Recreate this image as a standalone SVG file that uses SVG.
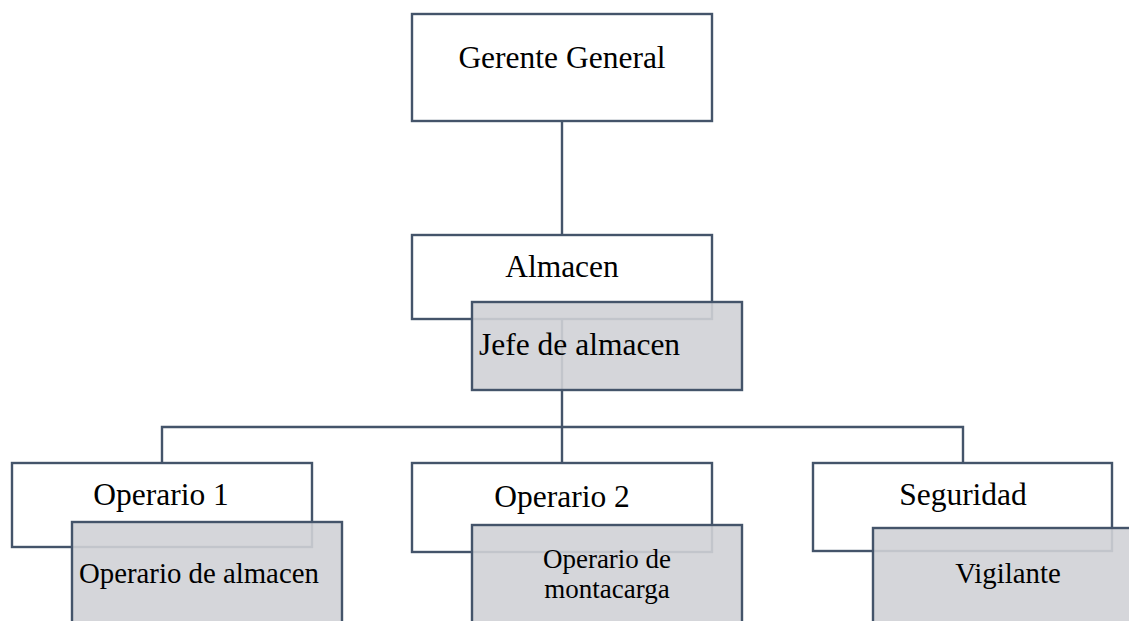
<svg xmlns="http://www.w3.org/2000/svg" width="1129" height="621" viewBox="0 0 1129 621">
<style>
.conn{stroke:#44546a;stroke-width:2.4;fill:none}
.wbox{fill:#ffffff;stroke:#44546a;stroke-width:2.4}
.gbox{fill:#d0d2d6;fill-opacity:0.9;stroke:#44546a;stroke-width:2.4}
.t{font-family:"Liberation Serif","Times New Roman",serif;font-size:31.5px;fill:#000000}
.ts{font-family:"Liberation Serif","Times New Roman",serif;font-size:28.8px;fill:#000000}
.tm{font-family:"Liberation Serif","Times New Roman",serif;font-size:27px;fill:#000000}
</style>
<rect width="1129" height="621" fill="#ffffff"/>
<g id="connectors">
<path class="conn" d="M562 121 V427"/>
<path class="conn" d="M162 463 V427 H963 V463"/>
<path class="conn" d="M562 427 V463"/>
</g>
<g id="gerente">
<rect class="wbox" x="412" y="14" width="300" height="107"/>
<text class="t" x="562" y="68" text-anchor="middle">Gerente General</text>
</g>
<g id="almacen">
<rect class="wbox" x="412" y="235" width="300" height="84"/>
<text class="t" x="562" y="277" text-anchor="middle">Almacen</text>
</g>
<g id="jefe">
<rect class="gbox" x="472" y="302" width="270" height="88"/>
<text class="t" x="479" y="355">Jefe de almacen</text>
</g>
<g id="operario1">
<rect class="wbox" x="12" y="463" width="300" height="84"/>
<text class="t" x="161" y="505" text-anchor="middle">Operario 1</text>
</g>
<g id="operario-almacen">
<rect class="gbox" x="72" y="522" width="270" height="110"/>
<text class="ts" x="79" y="583">Operario de almacen</text>
</g>
<g id="operario2">
<rect class="wbox" x="412" y="463" width="300" height="89"/>
<text class="t" x="562" y="507" text-anchor="middle">Operario 2</text>
</g>
<g id="operario-montacarga">
<rect class="gbox" x="472" y="525" width="270" height="110"/>
<text class="tm" x="607" y="568" text-anchor="middle">Operario de</text>
<text class="tm" x="607" y="598" text-anchor="middle">montacarga</text>
</g>
<g id="seguridad">
<rect class="wbox" x="813" y="463" width="299" height="88"/>
<text class="t" x="963" y="505" text-anchor="middle">Seguridad</text>
</g>
<g id="vigilante">
<rect class="gbox" x="873" y="528" width="270" height="110"/>
<text class="ts" x="1008" y="583" text-anchor="middle">Vigilante</text>
</g>
</svg>
